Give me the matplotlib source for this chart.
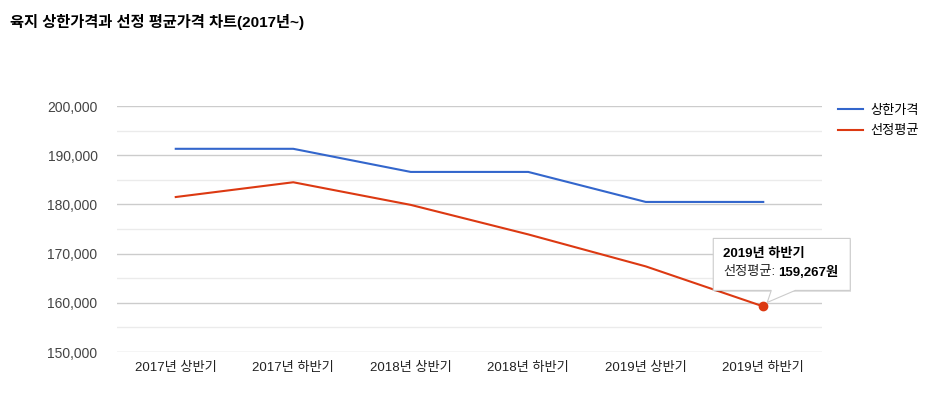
import numpy as np
import matplotlib.pyplot as plt
from matplotlib.patches import Polygon, Rectangle

plt.rcParams['font.family'] = ['Liberation Sans', 'Noto Sans CJK KR']

# data
periods = ['2017년 상반기', '2017년 하반기', '2018년 상반기',
           '2018년 하반기', '2019년 상반기', '2019년 하반기']
cap_price = [191300, 191300, 186600, 186600, 180500, 180500]
avg_price = [181500, 184500, 179900, 173900, 167400, 159267]
series_names = ['상한가격', '선정평균']
title = '육지 상한가격과 선정 평균가격 차트(2017년~)'

BLUE = '#3366cc'
RED = '#dc3912'

fig = plt.figure(figsize=(9.30, 3.94), dpi=100)
ax = fig.add_axes([117/930, 42/394, 705/930, 246/394])

x = np.arange(len(periods))
ax.plot(x, cap_price, color=BLUE, lw=1.5, label=series_names[0], solid_joinstyle='round')
ax.plot(x, avg_price, color=RED, lw=1.5, label=series_names[1], solid_joinstyle='round')

ax.set_xlim(-0.5, len(periods) - 0.5)
ax.set_ylim(150000, 200000)
ax.set_yticks(np.arange(150000, 200001, 10000))
ax.set_yticks(np.arange(155000, 200000, 10000), minor=True)
ax.set_yticklabels([f'{v:,}' for v in range(150000, 200001, 10000)])
ax.set_xticks(x)
ax.set_xticklabels(periods)
ax.grid(axis='y', which='major', color='#cccccc', lw=1)
ax.grid(axis='y', which='minor', color='#ebebeb', lw=1)
ax.set_axisbelow(True)
for s in ax.spines.values():
    s.set_visible(False)
ax.tick_params(axis='both', which='both', length=0)
ax.tick_params(axis='y', pad=14, labelsize=10, labelcolor='#444444')
ax.tick_params(axis='x', pad=7, labelsize=9.5, labelcolor='#222222')

fig.text(10/930, 1 - 22/394, title, fontsize=11, fontweight='bold', va='center', ha='left')

fig.legend(loc='upper left', bbox_to_anchor=(833/930, 1 - 99/394), frameon=False,
           fontsize=9.5, handlelength=1.9, handletextpad=0.5, labelspacing=0.65,
           borderaxespad=0, borderpad=0.4)

# highlighted point + tooltip
last = len(periods) - 1
ax.plot(x[last], avg_price[last], 'o', color=RED, ms=6, zorder=5)

fig.canvas.draw()
renderer = fig.canvas.get_renderer()
px, py = ax.transData.transform((x[last], avg_price[last]))
left, right = px - 50, px + 87
bottom, top = py + 16, py + 68

shadow = Rectangle((left + 1, bottom - 2), right - left, top - bottom,
                   transform=None, facecolor='#000000', alpha=0.12, edgecolor='none', zorder=9)
fig.patches.append(shadow)
tip = [(left, bottom), (px + 8, bottom), (px + 4, py + 4), (px + 32, bottom),
       (right, bottom), (right, top), (left, top)]
box = Polygon(tip, closed=True, transform=None, facecolor='white',
              edgecolor='#cccccc', lw=0.8, zorder=10)
fig.patches.append(box)

fig.text(left + 10, top - 16, periods[last], transform=None, fontsize=9.5,
         fontweight='bold', va='center', ha='left', zorder=11)
t2 = fig.text(left + 10, top - 34, series_names[1] + ':', transform=None, fontsize=9.5,
              va='center', ha='left', zorder=11, color='#222222')
ext = t2.get_window_extent(renderer)
fig.text(ext.x1 + 3, top - 34, f'{avg_price[last]:,}원', transform=None, fontsize=9.5,
         fontweight='bold', va='center', ha='left', zorder=11)

fig.savefig('out.png', dpi=100)
